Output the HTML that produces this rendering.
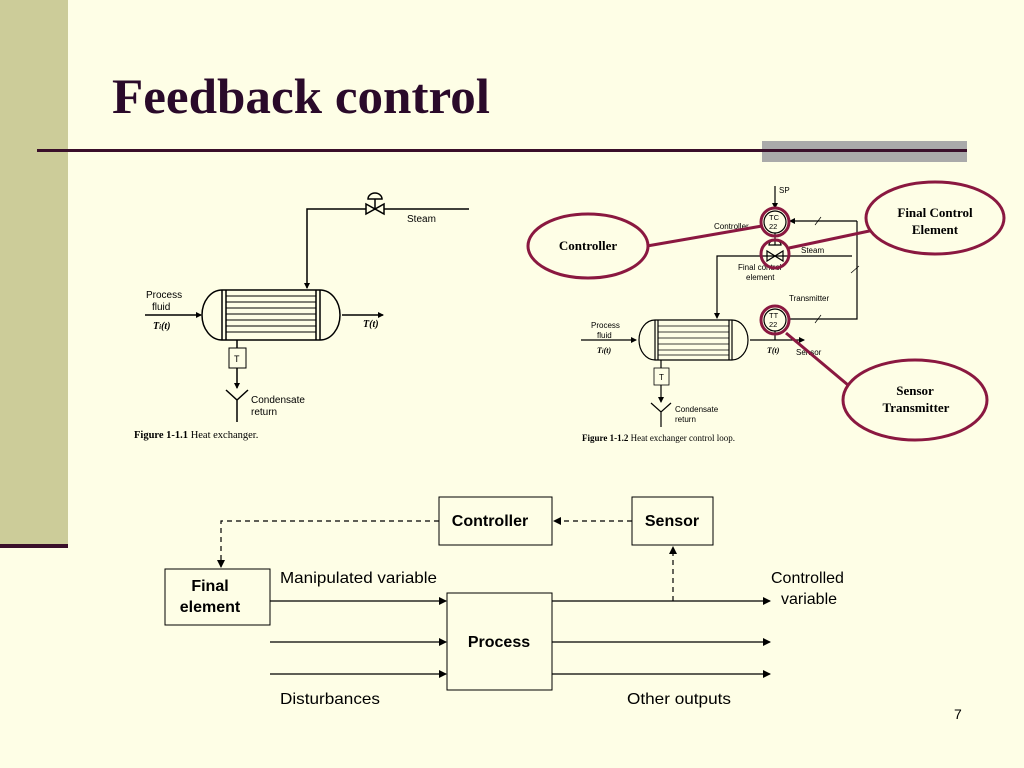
<!DOCTYPE html>
<html><head><meta charset="utf-8"><style>
body{margin:0;width:1024px;height:768px;background:#fefee6;overflow:hidden}
svg{display:block}
</style></head><body>
<svg width="1024" height="768" viewBox="0 0 1024 768" xmlns="http://www.w3.org/2000/svg">
<defs>
<marker id="a" markerWidth="8" markerHeight="8" refX="7" refY="4" orient="auto" markerUnits="userSpaceOnUse"><path d="M0,0 L8,4 L0,8z" fill="#000"/></marker>
<marker id="s" markerWidth="6" markerHeight="6" refX="5" refY="3" orient="auto" markerUnits="userSpaceOnUse"><path d="M0,0 L6,3 L0,6z" fill="#000"/></marker>
</defs>
<rect x="0" y="0" width="68" height="545" fill="#cccc99"/>
<rect x="0" y="544" width="68" height="4" fill="#3a0f2a"/>
<text x="112" y="113" font-family="Liberation Serif,serif" font-weight="bold" font-size="50" fill="#2a0a2a" textLength="378" lengthAdjust="spacingAndGlyphs">Feedback control</text>
<rect x="762" y="141" width="205" height="21" fill="#aaaaaa"/>
<rect x="37" y="149" width="930" height="3" fill="#3a0f2a"/>

<!-- Left heat exchanger -->
<g stroke="#000" fill="none" stroke-width="1.5" font-family="Liberation Sans,sans-serif">
<path d="M222,290 L320,290 A20,25 0 0 1 320,340 L222,340 A20,25 0 0 1 222,290z"/>
<line x1="222" y1="290" x2="222" y2="340"/><line x1="226" y1="290" x2="226" y2="340"/>
<line x1="316" y1="290" x2="316" y2="340"/><line x1="320" y1="290" x2="320" y2="340"/>
<g stroke-width="1"><line x1="226" y1="296" x2="316" y2="296"/><line x1="226" y1="302" x2="316" y2="302"/><line x1="226" y1="308" x2="316" y2="308"/><line x1="226" y1="314" x2="316" y2="314"/><line x1="226" y1="320" x2="316" y2="320"/><line x1="226" y1="326" x2="316" y2="326"/><line x1="226" y1="332" x2="316" y2="332"/></g>
<line x1="145" y1="315" x2="201" y2="315" marker-end="url(#s)"/>
<line x1="342" y1="315" x2="383" y2="315" marker-end="url(#s)"/>
<path d="M469,209 L307,209 L307,288" marker-end="url(#s)"/>
<path d="M366,204 L366,214 L384,204 L384,214z" fill="#fefee6"/>
<line x1="375" y1="209" x2="375" y2="199"/><path d="M368,199 A7,6 0 0 1 382,199z"/>
<line x1="237" y1="340" x2="237" y2="348"/>
<rect x="229" y="348" width="17" height="20" stroke-width="1"/>
<line x1="237" y1="368" x2="237" y2="388" marker-end="url(#s)"/>
<path d="M226,390 L237,400 L248,390 M237,400 L237,422"/>
</g>
<g font-family="Liberation Sans,sans-serif" font-size="10" fill="#000">
<text x="146" y="298">Process</text><text x="152" y="310">fluid</text>
<text x="153" y="329" font-family="Liberation Serif,serif" font-style="italic" font-weight="bold">T<tspan font-size="7">i</tspan>(t)</text>
<text x="363" y="327" font-family="Liberation Serif,serif" font-style="italic" font-weight="bold">T(t)</text>
<text x="407" y="222">Steam</text>
<text x="234" y="362" font-size="9">T</text>
<text x="251" y="403">Condensate</text><text x="251" y="415">return</text>
<text x="134" y="438" font-family="Liberation Serif,serif" font-size="10.5"><tspan font-weight="bold">Figure 1-1.1</tspan> Heat exchanger.</text>
</g>

<!-- Right control loop -->
<g stroke="#000" fill="none" stroke-width="1.2">
<path d="M655,320 L732,320 A16,20 0 0 1 732,360 L655,360 A16,20 0 0 1 655,320z"/>
<line x1="655" y1="320" x2="655" y2="360"/><line x1="658" y1="320" x2="658" y2="360"/>
<line x1="729" y1="320" x2="729" y2="360"/><line x1="732" y1="320" x2="732" y2="360"/>
<g stroke-width=".8"><line x1="658" y1="326" x2="729" y2="326"/><line x1="658" y1="332" x2="729" y2="332"/><line x1="658" y1="338" x2="729" y2="338"/><line x1="658" y1="344" x2="729" y2="344"/><line x1="658" y1="350" x2="729" y2="350"/><line x1="658" y1="355" x2="729" y2="355"/></g>
<line x1="581" y1="340" x2="636" y2="340" marker-end="url(#s)"/>
<line x1="750" y1="340" x2="804" y2="340" marker-end="url(#s)"/>
<path d="M852,256 L717,256 L717,318" marker-end="url(#s)"/>
<line x1="775" y1="186" x2="775" y2="208" marker-end="url(#s)"/>
<circle cx="775" cy="222" r="11"/>
<path d="M857,221 L790,221" marker-end="url(#s)"/>
<path d="M857,221 L857,319 L789,319"/>
<circle cx="775" cy="320" r="11"/>
<line x1="775" y1="331" x2="775" y2="340"/>
<line x1="775" y1="233" x2="775" y2="245"/>
<path d="M767,251 L767,261 L783,251 L783,261z"/>
<path d="M769,245 A6,5 0 0 1 781,245z"/>
<line x1="661" y1="360" x2="661" y2="368"/>
<rect x="654" y="368" width="15" height="17" stroke-width=".8"/>
<line x1="661" y1="385" x2="661" y2="402" marker-end="url(#s)"/>
<path d="M651,403 L661,412 L671,403 M661,412 L661,427"/>
<g stroke-width=".7"><line x1="815" y1="225" x2="821" y2="217"/><line x1="851" y1="273" x2="859" y2="266"/><line x1="815" y1="323" x2="821" y2="315"/></g>
</g>
<g font-family="Liberation Sans,sans-serif" font-size="8" fill="#000">
<text x="779" y="193">SP</text>
<text x="769" y="220" font-size="7.5">TC</text><text x="769" y="229" font-size="7.5">22</text>
<text x="769" y="318" font-size="7.5">TT</text><text x="769" y="327" font-size="7.5">22</text>
<text x="714" y="229">Controller</text>
<text x="801" y="253">Steam</text>
<text x="738" y="270">Final control</text><text x="746" y="280">element</text>
<text x="789" y="301">Transmitter</text>
<text x="796" y="355">Sensor</text>
<text x="591" y="328">Process</text><text x="597" y="338">fluid</text>
<text x="597" y="353" font-family="Liberation Serif,serif" font-style="italic" font-weight="bold">T<tspan font-size="6">i</tspan>(t)</text>
<text x="767" y="353" font-family="Liberation Serif,serif" font-style="italic" font-weight="bold">T(t)</text>
<text x="659" y="380">T</text>
<text x="675" y="412">Condensate</text><text x="675" y="422">return</text>
<text x="582" y="441" font-family="Liberation Serif,serif" font-size="9"><tspan font-weight="bold">Figure 1-1.2</tspan> Heat exchanger control loop.</text>
</g>
<g stroke="#8a1840" stroke-width="3" fill="none">
<circle cx="775" cy="222" r="14"/><circle cx="775" cy="254" r="14"/><circle cx="775" cy="320" r="14"/>
<line x1="647" y1="246" x2="762" y2="226"/>
<line x1="789" y1="248" x2="874" y2="230"/>
<line x1="786" y1="333" x2="848" y2="385"/>
<ellipse cx="588" cy="246" rx="60" ry="32" fill="#fefee6"/>
<ellipse cx="935" cy="218" rx="69" ry="36" fill="#fefee6"/>
<ellipse cx="915" cy="400" rx="72" ry="40" fill="#fefee6"/>
</g>
<g font-family="Liberation Serif,serif" font-weight="bold" font-size="13" fill="#000" text-anchor="middle">
<text x="588" y="250">Controller</text>
<text x="935" y="217">Final Control</text><text x="935" y="234">Element</text>
<text x="915" y="395">Sensor</text><text x="916" y="412">Transmitter</text>
</g>

<!-- Block diagram -->
<g stroke="#000" stroke-width="1" fill="none">
<rect x="439" y="497" width="113" height="48"/>
<rect x="632" y="497" width="81" height="48"/>
<rect x="165" y="569" width="105" height="56"/>
<rect x="447" y="593" width="105" height="97"/>
<g stroke-dasharray="5,4" stroke-width="1.2">
<path d="M439,521 L221,521 L221,567" marker-end="url(#a)"/>
<line x1="632" y1="521" x2="554" y2="521" marker-end="url(#a)"/>
<line x1="673" y1="601" x2="673" y2="547" marker-end="url(#a)"/>
</g>
<g stroke-width="1.3">
<line x1="270" y1="601" x2="446" y2="601" marker-end="url(#a)"/>
<line x1="270" y1="642" x2="446" y2="642" marker-end="url(#a)"/>
<line x1="270" y1="674" x2="446" y2="674" marker-end="url(#a)"/>
<line x1="552" y1="601" x2="770" y2="601" marker-end="url(#a)"/>
<line x1="552" y1="642" x2="770" y2="642" marker-end="url(#a)"/>
<line x1="552" y1="674" x2="770" y2="674" marker-end="url(#a)"/>
</g>
</g>
<g font-family="Liberation Sans,sans-serif" font-size="16" fill="#000">
<g font-weight="bold" text-anchor="middle">
<text x="490" y="526">Controller</text>
<text x="672" y="526">Sensor</text>
<text x="210" y="591">Final</text><text x="210" y="612">element</text>
<text x="499" y="647">Process</text>
</g>
<text x="280" y="583" textLength="157" lengthAdjust="spacingAndGlyphs">Manipulated variable</text>
<text x="771" y="583">Controlled</text><text x="781" y="604">variable</text>
<text x="280" y="704" textLength="100" lengthAdjust="spacingAndGlyphs">Disturbances</text>
<text x="627" y="704" textLength="104" lengthAdjust="spacingAndGlyphs">Other outputs</text>
<text x="954" y="719" font-size="14">7</text>
</g>
</svg>
</body></html>
